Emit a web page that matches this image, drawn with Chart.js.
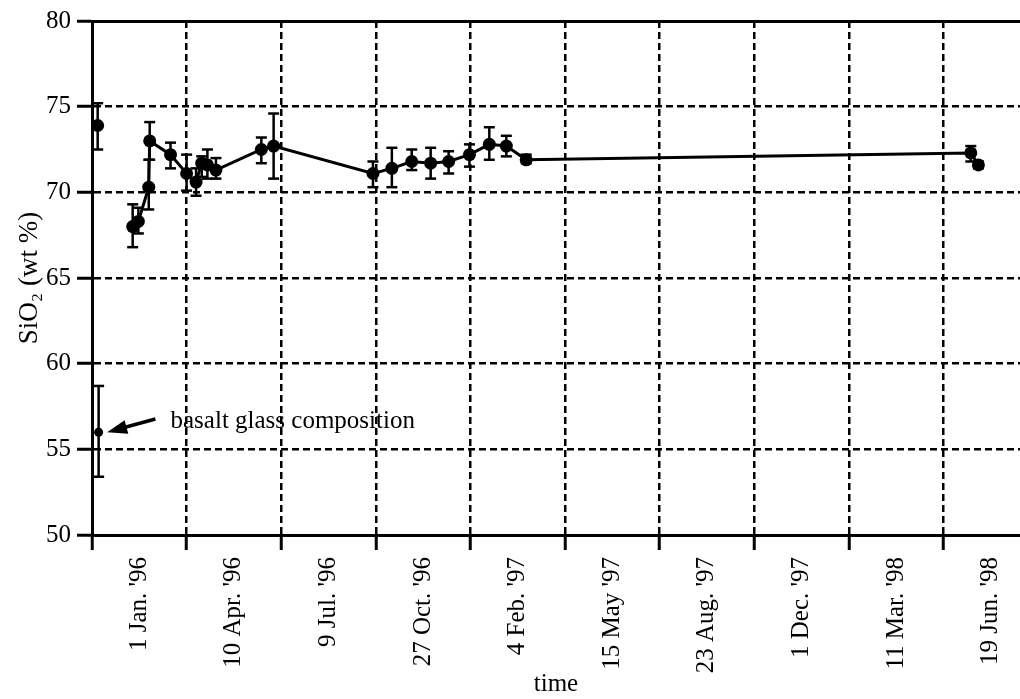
<!DOCTYPE html>
<html>
<head>
<meta charset="utf-8">
<script src="https://cdn.jsdelivr.net/npm/chart.js@4.4.0/dist/chart.umd.min.js"></script>
<style>
  html, body { margin: 0; padding: 0; background: #fff; }
  #wrap { width: 1020px; height: 699px; }
</style>
</head>
<body>
<div id="wrap"><canvas id="silicaChart"></canvas></div>
<script>
// day numbers: 0 = first dashed line, one grid step = 100 days
let days   = [-57, -51, -40, -39, -17, 0, 10, 16, 22, 31, 79, 92, 197, 217, 238, 258, 277, 299, 320, 338, 359, 829, 837];
let sio2   = [68.0, 68.3, 70.3, 73.0, 72.2, 71.1, 70.6, 71.7, 71.6, 71.3, 72.5, 72.7, 71.1, 71.4, 71.8, 71.7, 71.8, 72.2, 72.8, 72.7, 71.9, 72.3, 71.6];
let sio2Hi = [69.3, 69.1, 71.9, 74.1, 72.9, 72.2, 71.4, 72.1, 72.5, 72.0, 73.2, 74.6, 71.8, 72.6, 72.5, 72.6, 72.4, 72.8, 73.8, 73.3, 72.2, 72.7, 71.8];
let sio2Lo = [66.8, 67.6, 69.0, 71.9, 71.4, 70.1, 69.8, 70.9, 70.8, 70.8, 71.7, 70.8, 70.3, 70.3, 71.3, 70.8, 71.1, 71.5, 71.9, 72.1, 71.7, 71.8, 71.4];

// lone sample at the left edge (not joined to the line)
let firstDay = -94, firstSio2 = 73.9, firstHi = 75.2, firstLo = 72.5;

// basalt glass reference
let basaltDay = -93, basaltSio2 = 56.0, basaltHi = 58.7, basaltLo = 53.4;

// tick labels sit in the middle of each 100 day step
let tickDays   = [-50, 50, 150, 250, 350, 450, 550, 650, 750, 850];
let tickLabels = ["1 Jan. '96", "10 Apr. '96", "9 Jul. '96", "27 Oct. '96", "4 Feb. '97",
                  "15 May '97", "23 Aug. '97", "1 Dec. '97", "11 Mar. '98", "19 Jun. '98"];

let noteText = 'basalt glass composition';
let noteAt = [-17, 56.6];
let arrowTail = [-33, 56.77];
let arrowTip = [-84, 56.0];

Chart.defaults.font.family = "'Liberation Serif', 'Times New Roman', serif";
Chart.defaults.color = '#000';

function errorBars(xs, hi, lo) {
  let out = [];
  for (let i = 0; i < xs.length; i++) {
    out.push({x: xs[i], y: lo[i]}, {x: xs[i], y: hi[i]}, {x: xs[i], y: null});
  }
  return out;
}

let mainPoints = days.map((d, i) => ({x: d, y: sio2[i]}));

let basaltNote = {
  id: 'basaltNote',
  afterDatasetsDraw(chart) {
    let ctx = chart.ctx, x = chart.scales.x, y = chart.scales.y;
    let tx = x.getPixelForValue(arrowTail[0]), ty = y.getPixelForValue(arrowTail[1]);
    let hx = x.getPixelForValue(arrowTip[0]), hy = y.getPixelForValue(arrowTip[1]);
    let ang = Math.atan2(hy - ty, hx - tx);
    ctx.save();
    ctx.strokeStyle = '#000';
    ctx.fillStyle = '#000';
    ctx.lineWidth = 3.5;
    ctx.beginPath();
    ctx.moveTo(tx, ty);
    ctx.lineTo(hx - Math.cos(ang) * 12, hy - Math.sin(ang) * 12);
    ctx.stroke();
    ctx.beginPath();
    ctx.moveTo(hx, hy);
    ctx.lineTo(hx - Math.cos(ang) * 20 - Math.sin(ang) * 7, hy - Math.sin(ang) * 20 + Math.cos(ang) * 7);
    ctx.lineTo(hx - Math.cos(ang) * 20 + Math.sin(ang) * 7, hy - Math.sin(ang) * 20 - Math.cos(ang) * 7);
    ctx.closePath();
    ctx.fill();
    ctx.font = "25px 'Liberation Serif', serif";
    ctx.textBaseline = 'middle';
    ctx.fillText(noteText, x.getPixelForValue(noteAt[0]), y.getPixelForValue(noteAt[1]));
    ctx.restore();
  }
};

let ctx = document.getElementById('silicaChart');
let silicaChart = new Chart(ctx, {
  type: 'scatter',
  data: {
    datasets: [
      {
        data: mainPoints,
        showLine: true,
        borderColor: '#000',
        borderWidth: 3,
        pointRadius: 6.5,
        pointBackgroundColor: '#000',
        pointBorderWidth: 0
      },
      {
        data: [{x: firstDay, y: firstSio2}],
        pointRadius: 6.5,
        pointBackgroundColor: '#000',
        pointBorderWidth: 0
      },
      {
        data: [{x: basaltDay, y: basaltSio2}],
        pointRadius: 4.5,
        pointBackgroundColor: '#000',
        pointBorderWidth: 0
      },
      {
        data: errorBars(days.concat([firstDay, basaltDay]), sio2Hi.concat([firstHi, basaltHi]), sio2Lo.concat([firstLo, basaltLo])),
        showLine: true,
        spanGaps: false,
        borderColor: '#000',
        borderWidth: 2.5,
        pointStyle: 'line',
        pointRadius: 5.5,
        pointBorderColor: '#000',
        pointBorderWidth: 2.5
      }
    ]
  },
  options: {
    responsive: true,
    maintainAspectRatio: false,
    animation: false,
    layout: { autoPadding: false, padding: { top: 21, right: 0, bottom: 0, left: 0 } },
    plugins: { legend: { display: false }, tooltip: { enabled: false } },
    scales: {
      x: {
        type: 'linear',
        min: -100,
        max: 881,
        afterBuildTicks: s => { s.ticks = tickDays.map(v => ({value: v})); },
        afterFit: s => { s.height = 164; s.paddingLeft = 0; s.paddingRight = 0; },
        ticks: {
          autoSkip: false,
          minRotation: 90,
          maxRotation: 90,
          padding: 7,
          font: { size: 25 },
          callback: (v, i) => tickLabels[i]
        },
        grid: {
          offset: true,
          color: '#000',
          lineWidth: 2.5,
          tickLength: 15,
          tickWidth: 3,
          tickBorderDash: []
        },
        border: { display: true, color: '#000', width: 3, dash: [7, 4] },
        title: { display: true, text: 'time', font: { size: 25 }, padding: { top: 0, bottom: 0 } }
      },
      xTop: {
        type: 'linear',
        position: 'top',
        afterFit: s => { s.height = 0; s.paddingLeft = 0; s.paddingRight = 0; },
        ticks: { display: false },
        grid: { display: false },
        border: { display: true, color: '#000', width: 3 }
      },
      y: {
        min: 50,
        max: 80,
        afterFit: s => { s.width = 92; s.paddingTop = 0; s.paddingBottom = 0; },
        ticks: { stepSize: 5, padding: 6, font: { size: 25 } },
        grid: {
          color: '#000',
          lineWidth: 2.5,
          tickLength: 15,
          tickWidth: 3,
          tickBorderDash: []
        },
        border: { display: true, color: '#000', width: 3, dash: [7, 4] },
        title: { display: true, text: 'SiO₂ (wt %)', font: { size: 27 }, padding: { top: 14, bottom: 0 } }
      }
    }
  },
  plugins: [basaltNote]
});
</script>
</body>
</html>
